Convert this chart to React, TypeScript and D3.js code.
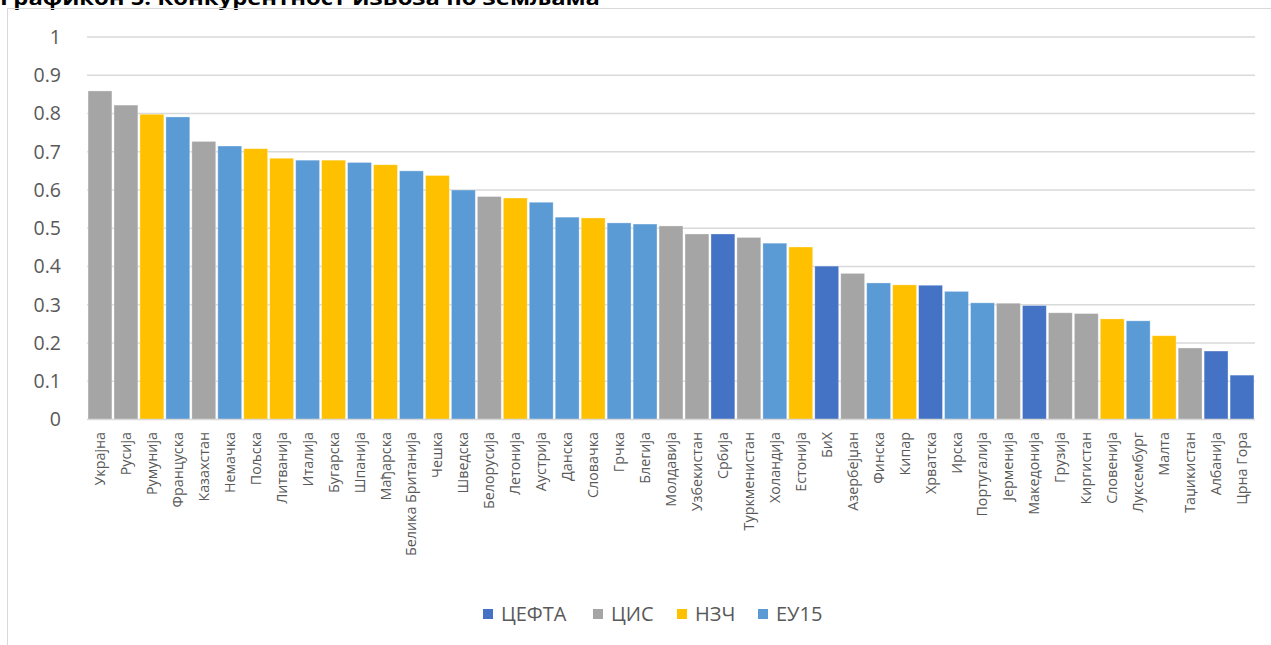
import React from "react";
import * as d3 from "d3";

const countries = [
  "Украјна", "Русија", "Румунија", "Француска", "Казахстан", "Немачка", "Пољска", "Литванија",
  "Италија", "Бугарска", "Шпанија", "Мађарска", "Белика Британија", "Чешка", "Шведска",
  "Белорусија", "Летонија", "Аустрија", "Данска", "Словачка", "Грчка", "Блегија", "Молдавија",
  "Узбекистан", "Србија", "Туркменистан", "Холандија", "Естонија", "БиХ", "Азербејџан",
  "Финска", "Кипар", "Хрватска", "Ирска", "Португалија", "Јерменија", "Македонија", "Грузија",
  "Киргистан", "Словенија", "Луксембург", "Малта", "Таџикистан", "Албанија", "Црна Гора",
];

const values = [
  0.859, 0.822, 0.798, 0.791, 0.727, 0.715, 0.708, 0.683,
  0.678, 0.678, 0.672, 0.666, 0.650, 0.638, 0.600,
  0.583, 0.579, 0.568, 0.529, 0.527, 0.514, 0.511, 0.506,
  0.485, 0.485, 0.476, 0.461, 0.451, 0.401, 0.382,
  0.357, 0.352, 0.351, 0.335, 0.305, 0.304, 0.298, 0.279,
  0.277, 0.263, 0.258, 0.219, 0.187, 0.179, 0.116,
];

const groupOf = [
  "ЦИС", "ЦИС", "НЗЧ", "ЕУ15", "ЦИС", "ЕУ15", "НЗЧ", "НЗЧ",
  "ЕУ15", "НЗЧ", "ЕУ15", "НЗЧ", "ЕУ15", "НЗЧ", "ЕУ15",
  "ЦИС", "НЗЧ", "ЕУ15", "ЕУ15", "НЗЧ", "ЕУ15", "ЕУ15", "ЦИС",
  "ЦИС", "ЦЕФТА", "ЦИС", "ЕУ15", "НЗЧ", "ЦЕФТА", "ЦИС",
  "ЕУ15", "НЗЧ", "ЦЕФТА", "ЕУ15", "ЕУ15", "ЦИС", "ЦЕФТА", "ЦИС",
  "ЦИС", "НЗЧ", "ЕУ15", "НЗЧ", "ЦИС", "ЦЕФТА", "ЦЕФТА",
];

const groups = ["ЦЕФТА", "ЦИС", "НЗЧ", "ЕУ15"];
const groupColors = ["#4472C4", "#A5A5A5", "#FFC000", "#5B9BD5"];

const yTicks = [0, 0.1, 0.2, 0.3, 0.4, 0.5, 0.6, 0.7, 0.8, 0.9, 1];
const yTickLabels = ["0", "0.1", "0.2", "0.3", "0.4", "0.5", "0.6", "0.7", "0.8", "0.9", "1"];

const title = "Графикон 5: Конкурентност извоза по земљама";

export default function App() {
  const W = 1271;
  const H = 645;
  const left = 87;
  const right = 1255;
  const top = 37;
  const bottom = 419.5;

  const x = d3.scaleBand<string>().domain(countries).range([left, right]).paddingInner(0.08).paddingOuter(0.04);
  const y = d3.scaleLinear().domain([0, 1]).range([bottom, top]);
  const color = d3.scaleOrdinal<string, string>().domain(groups).range(groupColors);

  const legendX = [483, 593, 677, 758];
  const font = "'Open Sans', 'Noto Sans', sans-serif";

  return (
    <svg width={W} height={H} style={{ position: "absolute", left: 0, top: 0, background: "#fff" }}>
      <text x={0} y={5} fontFamily={font} fontWeight="bold" fontSize={20} fill="#000" textLength={600} lengthAdjust="spacingAndGlyphs">{title}</text>
      <rect x={7.5} y={8.5} width={1300} height={700} fill="none" stroke="#d9d9d9" strokeWidth={1} />
      {yTicks.map((t, i) => (
        <g key={i}>
          {t > 0 && (
            <line x1={left} x2={right} y1={y(t)} y2={y(t)} stroke="#d9d9d9" strokeWidth={1.5} />
          )}
          <text x={61} y={y(t)} dy="0.35em" textAnchor="end" fontFamily={font} fontSize={19.5} fill="#595959">
            {yTickLabels[i]}
          </text>
        </g>
      ))}
      {countries.map((c, i) => (
        <rect
          key={c}
          x={x(c)}
          y={y(values[i])}
          width={x.bandwidth()}
          height={y(0) - y(values[i])}
          fill={color(groupOf[i])}
          stroke="#ffffff"
          strokeOpacity={0.4}
          strokeWidth={0.8}
        />
      ))}
      <line x1={left} x2={right} y1={y(0)} y2={y(0)} stroke="#d9d9d9" strokeWidth={1.5} />
      {countries.map((c) => (
        <text
          key={"l" + c}
          transform={`translate(${(x(c) as number) + x.bandwidth() / 2},432) rotate(-90)`}
          textAnchor="end"
          dy="0.35em"
          fontFamily={font}
          fontSize={14.3}
          fill="#595959"
        >
          {c}
        </text>
      ))}
      {groups.map((g, i) => (
        <g key={g}>
          <rect x={legendX[i]} y={609} width={10} height={10} fill={groupColors[i]} />
          <text x={legendX[i] + 18} y={614} dy="0.35em" fontFamily={font} fontSize={20} fill="#595959">
            {g}
          </text>
        </g>
      ))}
    </svg>
  );
}
